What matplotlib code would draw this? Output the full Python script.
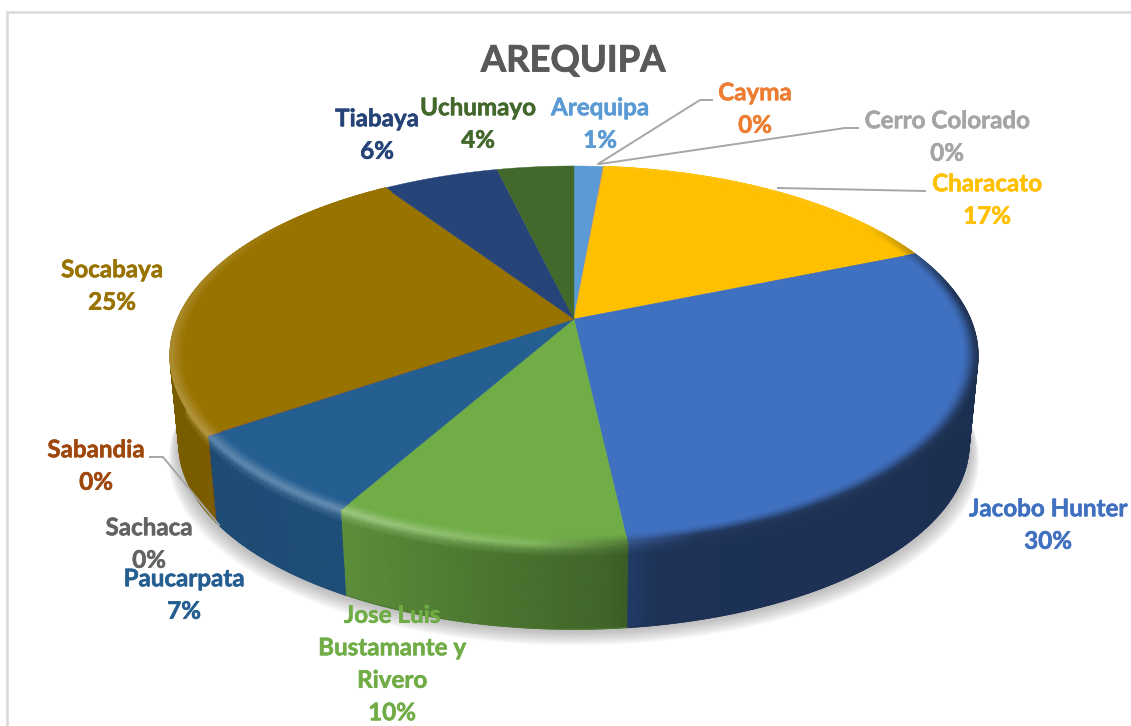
import numpy as np
import matplotlib
matplotlib.use('Agg')
import matplotlib.pyplot as plt
import matplotlib.colors as mcolors
import matplotlib.patheffects as pe

plt.rcParams['font.family'] = ['Lato', 'DejaVu Sans']

distritos = ['Arequipa', 'Cayma', 'Cerro Colorado', 'Characato', 'Jacobo Hunter',
             'Jose Luis\nBustamante y\nRivero', 'Paucarpata', 'Sabandia', 'Sachaca',
             'Socabaya', 'Tiabaya', 'Uchumayo']
valores = [1.4, 0.02, 0.02, 17.3, 29.5, 9.9, 7.2, 0.02, 0.02, 25.3, 5.6, 3.7]
colores = ['#5B9BD5', '#ED7D31', '#A5A5A5', '#FFC000', '#4070C0', '#70AD47',
           '#255E91', '#9E480E', '#636363', '#997300', '#264478', '#43682B']

# donde van las etiquetas (pixeles de la imagen)
pos_etiquetas = [(600, 124), (755, 109), (947, 137), (987, 200), (1048, 525),
                 (392, 664), (184, 595), (96, 466), (149, 544), (112, 286),
                 (377, 135), (478, 124)]
guias = [[(712, 100), (700, 100), (598, 164)],
         [(858, 128), (845, 128), (600, 164)],
         [(925, 191), (778, 188)],
         [(150, 457), (163, 457), (219, 525)]]

CX, CY = 574, 319
K, A, B = 0.1926, 182.5, 396.5


def cara(r, th):
    # disco visto en perspectiva, th en grados desde arriba y en sentido horario
    u = r * np.sin(np.radians(th))
    v = r * np.cos(np.radians(th))
    w = 1 + K * v
    return CX + B * u / w, CY - A * v / w


def base(x, y):
    return 573 + (x - 573) * 0.978, 443 + (y - 355) * 0.98


def mezcla(c, otro, t):
    c = np.array(mcolors.to_rgb(c))
    otro = np.array(mcolors.to_rgb(otro))
    t = np.asarray(t)[..., None]
    return c * (1 - t) + otro * t


def color_pared(c, th):
    oscuro = np.interp(th, [60, 120, 170, 176, 209, 240, 300], [.58, .58, .55, .42, .18, .2, .2])
    return mezcla(c, '#000000', oscuro)


def color_filo(c, th):
    # brillo a la izquierda, sombra a la derecha
    luz = np.interp(th, [175, 205, 235, 290, 310], [.05, .3, .25, .12, 0])
    sombra = np.interp(th, [55, 80, 165, 185], [0, .58, .55, 0])
    col = mezcla(c, '#FFFFFF', luz)
    return col * (1 - sombra[..., None])


def malla_color(c0, c1, ts):
    return np.stack([c0 * (1 - t) + c1 * t for t in ts])


fig = plt.figure(figsize=(11.31, 7.26), dpi=100)
ax = fig.add_axes([0, 0, 1, 1])
ax.set_xlim(0, 1131)
ax.set_ylim(726, 0)
ax.axis('off')

# marco del grafico
ax.plot([7, 7, 1131], [726, 12, 12], color='#D9D9D9', lw=1.8, solid_joinstyle='miter')

# sombra bajo el disco
t_all = np.linspace(0, 360, 361)
xs, ys = base(*cara(1.0, t_all))
for d in np.linspace(18, 1, 16):
    ax.fill(573 + (xs - 573) * (1 + d / 700), ys + d * 0.9, color='#7F7F7F', alpha=0.04, lw=0)

total = sum(valores)
ini = 0.0
for v, c in zip(valores, colores):
    ang = v / total * 360
    fin = ini + ang
    th = np.linspace(ini, fin, max(int(ang), 2) + 1)
    x1, y1 = cara(1.0, th)
    x2, y2 = base(x1, y1)

    # pared, con degradado de arriba (filo) hacia abajo
    if fin > 55 and ini < 310:
        f_pared = np.array([0, .06, .14, .4, .7, 1.0])
        X = np.stack([x1 + (x2 - x1) * f for f in f_pared])
        Y = np.stack([y1 + (y2 - y1) * f for f in f_pared])
        cf = color_filo(c, th)
        cp = color_pared(c, th)
        C = malla_color(cf, cp, [0, .55, 1, 1, 1, 1])
        ax.pcolormesh(X, Y, C, shading='gouraud', zorder=2)
        ax.plot(x2, y2, color=tuple(cp.mean(axis=0)), lw=0.8, zorder=2)

    # cara de arriba
    ax.fill(np.r_[CX, x1], np.r_[CY, y1], color=c, lw=0.3, zorder=3)

    # bisel sobre la cara de arriba
    if fin > 55 and ini < 310:
        radios = np.array([.965, .975, .985, .993, 1.0])
        X = np.stack([cara(r, th)[0] for r in radios])
        Y = np.stack([cara(r, th)[1] for r in radios])
        cara_c = np.tile(np.array(mcolors.to_rgb(c)), (len(th), 1))
        C = malla_color(cara_c, color_filo(c, th), [0, .2, .55, .85, 1])
        ax.pcolormesh(X, Y, C, shading='gouraud', zorder=4)
    ini = fin

# lineas guia
for g in guias:
    ax.plot([p[0] for p in g], [p[1] for p in g], color='#A6A6A6', lw=1.4, zorder=5)

ax.text(573, 61, 'AREQUIPA', ha='center', va='center', fontsize=26.2, fontweight='bold',
        color='#595959', zorder=6,
        path_effects=[pe.withStroke(linewidth=0.6, foreground='#595959')])

for nombre, v, c, (px, py) in zip(distritos, valores, colores, pos_etiquetas):
    txt = '%s\n%d%%' % (nombre, round(v / total * 100))
    ax.text(px, py, txt, ha='center', va='center', fontsize=17.4, fontweight='bold',
            color=c, linespacing=1.5, zorder=6,
            path_effects=[pe.withStroke(linewidth=0.4, foreground=c)])

ax.set_xlim(0, 1131)
ax.set_ylim(726, 0)
fig.savefig('out.png', dpi=100)
